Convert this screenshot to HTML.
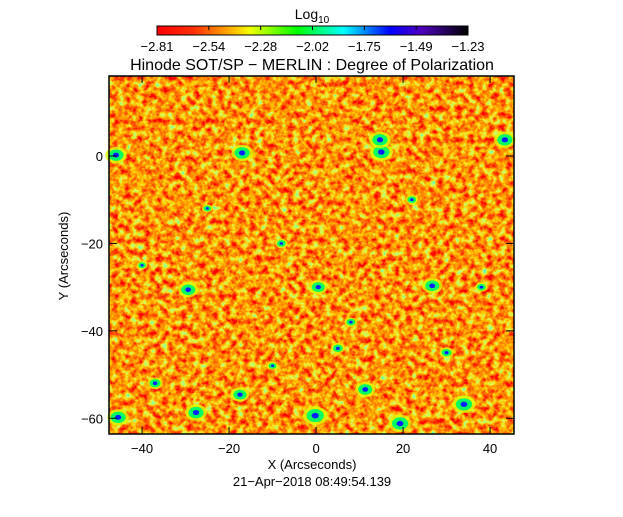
<!DOCTYPE html>
<html><head><meta charset="utf-8"><style>
body{margin:0;background:#fff;}
svg text{font-family:"Liberation Sans",sans-serif;fill:#000;}
</style></head><body>
<svg id="c" width="623" height="512" xmlns="http://www.w3.org/2000/svg">
<defs>
<linearGradient id="cb" x1="0" x2="1" y1="0" y2="0">
<stop offset="0" stop-color="#ff0000"/><stop offset="0.12" stop-color="#ff3000"/><stop offset="0.25" stop-color="#ffc000"/><stop offset="0.3" stop-color="#f0ff00"/><stop offset="0.45" stop-color="#00ff00"/><stop offset="0.6" stop-color="#00ffff"/><stop offset="0.75" stop-color="#0000ff"/><stop offset="0.85" stop-color="#5000c0"/><stop offset="1" stop-color="#000000"/>
</linearGradient>
<filter id="tex" x="0" y="0" width="100%" height="100%">
<feTurbulence type="fractalNoise" baseFrequency="0.16" numOctaves="3" seed="7"/>
<feColorMatrix type="matrix" values="1 0 0 0 0  1 0 0 0 0  1 0 0 0 0  0 0 0 0 1"/>
<feComponentTransfer>
<feFuncR type="table" tableValues="1 1 1 1 1 1 0.6 0.1 0"/>
<feFuncG type="table" tableValues="0 0 0 0.08 0.3 0.65 1 1 1"/>
<feFuncB type="table" tableValues="0 0 0 0 0 0 0.1 0.4 0.8"/>
</feComponentTransfer>
</filter>
</defs>
<text x="312" y="19" font-size="14" text-anchor="middle">Log<tspan font-size="10" dy="4">10</tspan></text>
<rect x="157" y="26" width="311" height="9" fill="url(#cb)" stroke="#000" stroke-width="1"/>
<g id="cbt" font-size="13" text-anchor="middle"></g>
<text x="312" y="70" font-size="16" text-anchor="middle">Hinode SOT/SP − MERLIN : Degree of Polarization</text>
<g id="plot">
<rect x="109" y="76" width="405" height="358" fill="#ff3000" filter="url(#tex)"/>
</g>
<g id="spots"></g>
<rect x="109" y="76" width="405" height="358" fill="none" stroke="#000" stroke-width="1.5"/>
<g id="ax" font-size="13"></g>
<text x="312" y="469" font-size="13" text-anchor="middle">X (Arcseconds)</text>
<text transform="translate(68,256) rotate(-90)" font-size="13" text-anchor="middle">Y (Arcseconds)</text>
<text x="312" y="486" font-size="13" text-anchor="middle">21−Apr−2018 08:49:54.139</text>
</svg>
<script>
const cbLabels=["−2.81","−2.54","−2.28","−2.02","−1.75","−1.49","−1.23"];
const xTicks=[-40,-20,0,20,40];
const yTicks=[-60,-40,-20,0];
const spotX=[-46,-17,15,43.4,-29.4,0.5,26.7,-27.6,-0.2,19.3,34,-45.5,-17.5,11.3,14.7,-37,5,30,-8,22,-40,-25,8,38,-10];
const spotY=[0.2,0.7,0.9,3.7,-30.6,-30,-29.7,-58.7,-59.4,-61.2,-56.8,-59.8,-54.6,-53.4,3.7,-52,-44,-45,-20,-10,-25,-12,-38,-30,-48];
const spotV=[-1.6,-1.6,-1.55,-1.6,-1.65,-1.7,-1.65,-1.6,-1.5,-1.55,-1.55,-1.6,-1.7,-1.65,-1.6,-1.8,-1.85,-1.85,-1.9,-1.9,-1.95,-1.95,-1.9,-1.9,-1.95];
const X0=-47.6,X1=45.5,Y0=-63.6,Y1=18.3;
const sx=v=>109+(v-X0)/(X1-X0)*405;
const sy=v=>434-(v-Y0)/(Y1-Y0)*358;
const NS="http://www.w3.org/2000/svg";
function mk(t,a,p){const e=document.createElementNS(NS,t);for(const k in a)e.setAttribute(k,a[k]);p.appendChild(e);return e;}
const cbt=document.getElementById('cbt');
cbLabels.forEach((l,i)=>{const x=157+i*311/6;
const tk=mk('line',{x1:x,x2:x,y1:26,y2:30,stroke:'#000'},cbt);


const t=mk('text',{x:x,y:51},cbt);t.textContent=l;

});
const sp=document.getElementById('spots');
spotX.forEach((x,i)=>{const cx=sx(x),cy=sy(spotY[i]);const s=(spotV[i]+2.3)*9;
const y=mk('ellipse',{cx:cx,cy:cy,rx:s*1.7,ry:s*1.3,fill:'#d8ff00',opacity:0.8},sp);


const g=mk('ellipse',{cx:cx,cy:cy,rx:s*1.2,ry:s*0.9,fill:'#00ff60'},sp);


const b=mk('ellipse',{cx:cx,cy:cy,rx:s*0.5,ry:s*0.4,fill:'#0020ff'},sp);

});
const ax=document.getElementById('ax');
xTicks.forEach(v=>{const x=sx(v);
mk('line',{x1:x,x2:x,y1:434,y2:427,stroke:'#000'},ax);mk('line',{x1:x,x2:x,y1:76,y2:83,stroke:'#000'},ax);
const t=mk('text',{x:x,y:453,'text-anchor':'middle'},ax);t.textContent=(v<0?'−':'')+Math.abs(v);

});
yTicks.forEach(v=>{const y=sy(v);
mk('line',{x1:109,x2:117,y1:y,y2:y,stroke:'#000'},ax);mk('line',{x1:514,x2:506,y1:y,y2:y,stroke:'#000'},ax);
const t=mk('text',{x:103,y:y+5,'text-anchor':'end'},ax);t.textContent=(v<0?'−':'')+Math.abs(v);

});
</script>
</body></html>
